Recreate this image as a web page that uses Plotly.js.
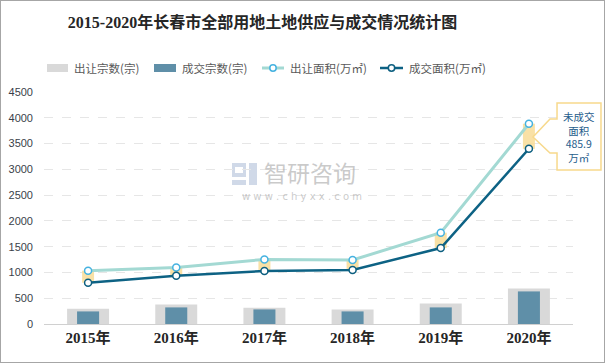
<!DOCTYPE html>
<html><head><meta charset="utf-8">
<script src="https://cdn.plot.ly/plotly-3.0.1.min.js"></script>
<style>html,body{margin:0;padding:0;background:#fff;}#wrap{position:relative;width:605px;height:363px;}#frame{position:absolute;left:0;top:0;width:605px;height:363px;box-sizing:border-box;border:1px solid #a6a6a6;pointer-events:none;}</style>
</head><body>
<div id="wrap"><div id="chart"></div><div id="frame"></div></div>
<script>
const years = ['2015年','2016年','2017年','2018年','2019年','2020年'];
const seriesNames = ['出让宗数(宗)','成交宗数(宗)','出让面积(万㎡)','成交面积(万㎡)'];
const supplyCount = [297, 380, 316, 283, 400, 690];
const dealCount = [244, 322, 283, 244, 322, 632];
const supplyArea = [1034, 1098, 1253, 1241, 1771, 3885.0];
const dealArea = [801, 937, 1028, 1047, 1474, 3399.1];
const yTicks = [0, 500, 1000, 1500, 2000, 2500, 3000, 3500, 4000, 4500];

const L = 44, R = 573, T = 92, B = 324;
const px = x => (x - L) / (R - L);
const py = y => (B - y) / (B - T);

const cjkSans = '"Noto Sans CJK SC", "Liberation Sans", sans-serif';
const cjkSerif = '"Liberation Serif", "Noto Sans CJK SC", serif';

const colors = {supplyBar:'#d9d9d9', dealBar:'#5f8fa8', supplyLine:'#a3d9d3', dealLine:'#0d6284', supplyMk:'#45b2e0', dealMk:'#0d5f80'};

const traces = [
  {type:'bar', name:seriesNames[0], x:years, y:supplyCount, width:0.476, marker:{color:colors.supplyBar}, hoverinfo:'skip'},
  {type:'bar', name:seriesNames[1], x:years, y:dealCount, width:0.25, marker:{color:colors.dealBar}, hoverinfo:'skip'},
  {type:'scatter', mode:'lines+markers', name:seriesNames[2], x:years, y:supplyArea,
   line:{color:colors.supplyLine, width:3}, marker:{size:7, color:'#ffffff', line:{color:colors.supplyMk, width:1.5}}, hoverinfo:'skip'},
  {type:'scatter', mode:'lines+markers', name:seriesNames[3], x:years, y:dealArea,
   line:{color:colors.dealLine, width:2.5}, marker:{size:7, color:'#ffffff', line:{color:colors.dealMk, width:1.5}}, hoverinfo:'skip'}
];

const shapes = [];
const annotations = [];
years.forEach((yr, i) => {
  shapes.push({type:'rect', xref:'x', yref:'y', layer:'between',
    x0: i - 0.068, x1: i + 0.068, y0: dealArea[i], y1: supplyArea[i],
    fillcolor:'rgba(248,220,150,0.85)', line:{width:0}});
});
// callout box for last year
const last = years.length - 1;
const pts = [[557,103],[601,103],[601,170],[557,170],[557,153],[550,153],[533,137],[550,119],[557,119]];
const path = 'M ' + pts.map(p => px(p[0]).toFixed(4) + ',' + py(p[1]).toFixed(4)).join(' L ') + ' Z';
shapes.push({type:'path', xref:'paper', yref:'paper', path:path, fillcolor:'#ffffff', line:{color:'#f7d98c', width:1.5}, layer:'above'});
const gap = (supplyArea[last] - dealArea[last]).toFixed(1);
annotations.push({xref:'paper', yref:'paper', x:px(579), y:py(136.5), text:'未成交<br>面积<br>' + gap + '<br>万㎡', showarrow:false,
   font:{family:cjkSans, size:10.5, color:'#1f5d8c'}, xanchor:'center', yanchor:'middle', align:'center'});

// custom legend
const legX = [47, 154, 262, 380];
const legY = 68;
shapes.push({type:'rect', xref:'paper', yref:'paper', x0:px(legX[0]), x1:px(legX[0]+21), y0:py(legY+4), y1:py(legY-4), fillcolor:colors.supplyBar, line:{width:0}});
shapes.push({type:'rect', xref:'paper', yref:'paper', x0:px(legX[1]), x1:px(legX[1]+22), y0:py(legY+4), y1:py(legY-4), fillcolor:colors.dealBar, line:{width:0}});
shapes.push({type:'line', xref:'paper', yref:'paper', x0:px(legX[2]), x1:px(legX[2]+22), y0:py(legY), y1:py(legY), line:{color:colors.supplyLine, width:3}});
shapes.push({type:'line', xref:'paper', yref:'paper', x0:px(legX[3]), x1:px(legX[3]+23), y0:py(legY), y1:py(legY), line:{color:colors.dealLine, width:2.5}});
[[legX[2]+11, colors.supplyMk],[legX[3]+11.5, colors.dealMk]].forEach(([cx, c]) => {
  shapes.push({type:'circle', xref:'paper', yref:'paper', x0:px(cx-3.2), x1:px(cx+3.2), y0:py(legY+3.2), y1:py(legY-3.2), fillcolor:'#ffffff', line:{color:c, width:1.5}});
});
const legTextX = [72, 180, 288, 407];
seriesNames.forEach((n, i) => {
  annotations.push({xref:'paper', yref:'paper', x:px(legTextX[i]), y:py(legY), text:n, showarrow:false, xanchor:'left', yanchor:'middle',
    font:{family:cjkSans, size:11.5, color:'#595959'}});
});

// watermark
const wm = 'rgba(150,170,205,0.45)';
shapes.push({type:'rect', xref:'paper', yref:'paper', x0:px(232), x1:px(246), y0:py(177), y1:py(163), fillcolor:wm, line:{width:0}, layer:'below'});
shapes.push({type:'rect', xref:'paper', yref:'paper', x0:px(235), x1:px(243), y0:py(173), y1:py(167), fillcolor:'#ffffff', line:{width:0}, layer:'below'});
shapes.push({type:'rect', xref:'paper', yref:'paper', x0:px(249), x1:px(257), y0:py(185), y1:py(163), fillcolor:wm, line:{width:0}, layer:'below'});
shapes.push({type:'rect', xref:'paper', yref:'paper', x0:px(232), x1:px(246), y0:py(185), y1:py(180), fillcolor:wm, line:{width:0}, layer:'below'});
annotations.push({xref:'paper', yref:'paper', x:px(263), y:py(172), text:'智研咨询', showarrow:false, xanchor:'left', yanchor:'middle',
   font:{family:cjkSans, size:23, color:'rgba(150,150,150,0.5)'}, borderpad:0});
annotations.push({xref:'paper', yref:'paper', x:px(302), y:py(196), text:'w w w . c h y x x . c o m', showarrow:false, xanchor:'center', yanchor:'middle',
   font:{family:'"DejaVu Sans", sans-serif', size:10, color:'rgba(150,150,150,0.5)'}, borderpad:0});

const layout = {
  width:605, height:363,
  margin:{l:L, r:605-R, t:T, b:363-B, pad:0},
  paper_bgcolor:'#ffffff', plot_bgcolor:'#ffffff',
  title:{text:'<b>2015-2020年长春市全部用地土地供应与成交情况统计图</b>', x:262.5/605, xanchor:'center', xref:'container',
    y:1-22/363, yanchor:'middle', yref:'container', font:{family:cjkSerif, size:16, color:'#262626'}},
  barmode:'overlay',
  showlegend:false,
  xaxis:{type:'category', showgrid:false, showline:true, linecolor:'#d0d0d0', linewidth:1, ticks:'',
    tickfont:{family:cjkSerif, size:15, color:'#262626'}, tickprefix:'<b>', ticksuffix:'</b>', fixedrange:true},
  yaxis:{range:[0,4500], tickvals:yTicks, ticktext:yTicks.map(String), showgrid:true, gridcolor:'#e6e6e6', griddash:'dash', gridwidth:1,
    zeroline:false, showline:false, ticks:'', tickfont:{family:'"Liberation Sans", Arial, sans-serif', size:11, color:'#3a3f4a'},
    ticklabelstandoff:10, fixedrange:true},
  shapes:shapes,
  annotations:annotations,
  hovermode:false
};
Plotly.newPlot('chart', traces, layout, {displayModeBar:false, staticPlot:true});
</script>
</body></html>
